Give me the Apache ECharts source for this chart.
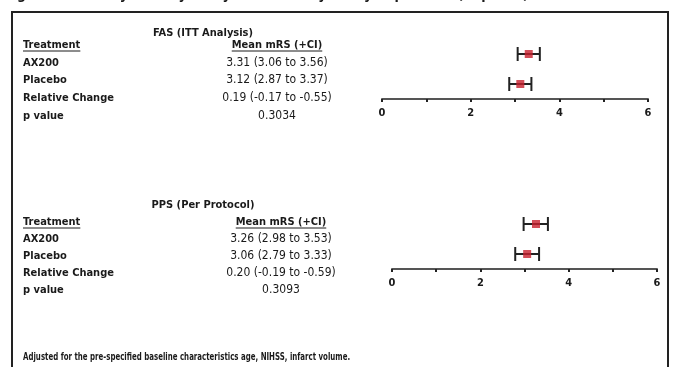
<!DOCTYPE html>
<html>
<head>
<meta charset="utf-8">
<script src="https://cdn.jsdelivr.net/npm/echarts@6/dist/echarts.min.js"></script>
<style>
  html, body { margin: 0; padding: 0; background: #fff; }
  #chart { width: 676px; height: 367px; }
</style>
</head>
<body>
<div id="chart"></div>
<script>
// data
const panelTitles = ['FAS (ITT Analysis)', 'PPS (Per Protocol)'];
const groups = ['AX200', 'Placebo'];
const rowLabels = ['Treatment', 'AX200', 'Placebo', 'Relative Change', 'p value'];
const meanHeader = 'Mean mRS (+CI)';

const fasMean = [3.31, 3.12];
const fasLow = [3.06, 2.87];
const fasHigh = [3.56, 3.37];
const fasRel = [0.19, -0.17, -0.55];
const fasP = '0.3034';

const ppsMean = [3.26, 3.06];
const ppsLow = [2.98, 2.79];
const ppsHigh = [3.53, 3.33];
const ppsRel = [0.20, -0.19, -0.59];
const ppsP = '0.3093';

const axisMin = 0, axisMax = 6, axisStep = 1;
const axisLabelsShown = [0, 2, 4, 6];

const footnote = 'Adjusted for the pre-specified baseline characteristics age, NIHSS, infarct volume.';
const cutTitle = 'Figure 4: Primary Efficacy Analysis of mRS by Study Population (Imputed)';

const FONT = '"Liberation Sans Narrow", "DejaVu Sans Condensed", "Liberation Sans", sans-serif';

const chart = echarts.init(document.getElementById('chart'));

const measure = (() => {
  const ctx = document.createElement('canvas').getContext('2d');
  return (txt, size, weight) => {
    ctx.font = weight + ' ' + size + 'px ' + FONT;
    return ctx.measureText(txt).width;
  };
})();

const fmtCI = (m, lo, hi) => m.toFixed(2) + ' (' + lo.toFixed(2) + ' to ' + hi.toFixed(2) + ')';

const panels = [
  {mean: fasMean, low: fasLow, high: fasHigh, rel: fasRel, p: fasP,
   titleY: 33, rowY: [45, 63, 80, 98, 116], gridLeft: 382, gridRight: 28, gridTop: 39, valueX: 277},
  {mean: ppsMean, low: ppsLow, high: ppsHigh, rel: ppsRel, p: ppsP,
   titleY: 205, rowY: [222, 239, 256, 273, 290], gridLeft: 392, gridRight: 19, gridTop: 209, valueX: 281}
];

const txt = (text, x, y, size, weight, align, sx) => ({
  type: 'text', x: x, y: y, silent: true, scaleX: sx || 1,
  style: {text: text, fontSize: size, fontWeight: weight, fontFamily: FONT,
          fill: '#1a1a1a', textAlign: align || 'left', textVerticalAlign: 'middle'}
});

const underline = (x1, x2, y) => ({
  type: 'line', silent: true,
  shape: {x1: x1, y1: y, x2: x2, y2: y},
  style: {stroke: '#1a1a1a', lineWidth: 1}
});

const graphics = [
  {type: 'rect', silent: true, shape: {x: 12, y: 12, width: 656, height: 380},
   style: {fill: 'none', stroke: '#222', lineWidth: 2}},
  txt(cutTitle, 4, -5, 14, 'bold', 'left'),
  txt(footnote, 23, 357, 11, 'bold', 'left', 0.71)
];

panels.forEach((p, i) => {
  const values = [meanHeader, fmtCI(p.mean[0], p.low[0], p.high[0]), fmtCI(p.mean[1], p.low[1], p.high[1]),
    p.rel[0].toFixed(2) + ' (' + p.rel[1].toFixed(2) + ' to ' + p.rel[2].toFixed(2) + ')', p.p];
  graphics.push(txt(panelTitles[i], 203, p.titleY, 11, 'bold', 'center'));
  rowLabels.forEach((lab, r) => {
    graphics.push(txt(lab, 23, p.rowY[r], 11, 'bold', 'left'));
    graphics.push(txt(values[r], p.valueX, p.rowY[r], r === 0 ? 11 : 12, r === 0 ? 'bold' : 'normal', 'center'));
  });
  const w1 = measure(rowLabels[0], 11, 'bold');
  graphics.push(underline(23, 23 + w1, p.rowY[0] + 6));
  const w2 = measure(meanHeader, 11, 'bold');
  graphics.push(underline(p.valueX - w2 / 2, p.valueX + w2 / 2, p.rowY[0] + 6));
});

const grids = panels.map(p => ({left: p.gridLeft, right: p.gridRight, top: p.gridTop, height: 60}));
const yAxes = panels.map((p, i) => ({
  type: 'category', gridIndex: i, data: groups.slice().reverse(), show: false
}));
const xAxes = panels.map((p, i) => ({
  type: 'value', gridIndex: i, min: axisMin, max: axisMax, interval: axisStep,
  axisLine: {show: true, lineStyle: {color: '#555', width: 2}},
  axisTick: {show: true, length: 3, lineStyle: {color: '#222', width: 2}},
  splitLine: {show: false},
  axisLabel: {
    margin: 9, color: '#1a1a1a', fontSize: 11, fontWeight: 'bold', fontFamily: FONT,
    formatter: v => axisLabelsShown.indexOf(v) >= 0 ? String(v) : ''
  }
}));

const series = [];
panels.forEach((p, i) => {
  series.push({
    type: 'custom', xAxisIndex: i, yAxisIndex: i, silent: true,
    data: groups.map((g, k) => [p.low[k], p.high[k], g]),
    renderItem: (params, api) => {
      const a = api.coord([api.value(0), api.value(2)]);
      const b = api.coord([api.value(1), api.value(2)]);
      const cap = 7;
      const st = {stroke: '#222', lineWidth: 2};
      return {
        type: 'group',
        children: [
          {type: 'line', shape: {x1: a[0], y1: a[1], x2: b[0], y2: b[1]}, style: st},
          {type: 'line', shape: {x1: a[0], y1: a[1] - cap, x2: a[0], y2: a[1] + cap}, style: st},
          {type: 'line', shape: {x1: b[0], y1: b[1] - cap, x2: b[0], y2: b[1] + cap}, style: st}
        ]
      };
    },
    z: 2
  });
  series.push({
    type: 'scatter', xAxisIndex: i, yAxisIndex: i, silent: true,
    symbol: 'rect', symbolSize: 8,
    itemStyle: {color: '#c8202e'},
    data: groups.map((g, k) => [p.mean[k], g]),
    z: 3
  });
});

chart.setOption({
  animation: false,
  backgroundColor: '#fff',
  grid: grids,
  xAxis: xAxes,
  yAxis: yAxes,
  series: series,
  graphic: graphics
});
</script>
</body>
</html>
